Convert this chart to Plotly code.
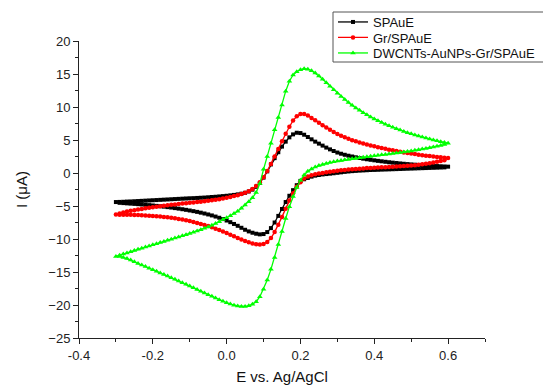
import plotly.graph_objects as go

# Potential sweep (V vs Ag/AgCl): forward scan -0.30 -> 0.60, reverse scan 0.59 -> -0.30
E_fwd = [-0.30, -0.29, -0.28, -0.27, -0.26, -0.25, -0.24, -0.23, -0.22, -0.21,
         -0.20, -0.19, -0.18, -0.17, -0.16, -0.15, -0.14, -0.13, -0.12, -0.11,
         -0.10, -0.09, -0.08, -0.07, -0.06, -0.05, -0.04, -0.03, -0.02, -0.01,
         0.00, 0.01, 0.02, 0.03, 0.04, 0.05, 0.06, 0.07, 0.08, 0.09,
         0.10, 0.11, 0.12, 0.13, 0.14, 0.15, 0.16, 0.17, 0.18, 0.19,
         0.20, 0.21, 0.22, 0.23, 0.24, 0.25, 0.26, 0.27, 0.28, 0.29,
         0.30, 0.31, 0.32, 0.33, 0.34, 0.35, 0.36, 0.37, 0.38, 0.39,
         0.40, 0.41, 0.42, 0.43, 0.44, 0.45, 0.46, 0.47, 0.48, 0.49,
         0.50, 0.51, 0.52, 0.53, 0.54, 0.55, 0.56, 0.57, 0.58, 0.59, 0.60]
E_rev = E_fwd[-2::-1]

# SPAuE (black)
spauE_fwd = [-4.40, -4.38, -4.36, -4.33, -4.31, -4.28, -4.25, -4.22, -4.19, -4.16,
             -4.13, -4.10, -4.07, -4.04, -4.01, -3.98, -3.95, -3.92, -3.89, -3.86,
             -3.83, -3.81, -3.78, -3.75, -3.72, -3.68, -3.64, -3.60, -3.55, -3.50,
             -3.45, -3.39, -3.32, -3.24, -3.14, -3.00, -2.80, -2.52, -2.10, -1.50,
             -0.70, 0.25, 1.30, 2.25, 3.15, 4.00, 4.75, 5.40, 5.85, 6.10,
             6.05, 5.80, 5.45, 5.10, 4.75, 4.45, 4.15, 3.85, 3.58, 3.33,
             3.10, 2.92, 2.76, 2.62, 2.50, 2.38, 2.27, 2.17, 2.08, 2.00,
             1.92, 1.84, 1.77, 1.70, 1.63, 1.57, 1.51, 1.45, 1.40, 1.35,
             1.30, 1.26, 1.22, 1.18, 1.14, 1.11, 1.08, 1.05, 1.02, 0.99, 0.96]
spauE_rev = [0.85, 0.83, 0.81, 0.79, 0.77, 0.75, 0.73, 0.71, 0.69,
             0.67, 0.65, 0.63, 0.61, 0.59, 0.57, 0.55, 0.53, 0.51, 0.49,
             0.47, 0.45, 0.42, 0.39, 0.36, 0.32, 0.28, 0.23, 0.17, 0.10,
             0.03, -0.04, -0.10, -0.16, -0.22, -0.30, -0.40, -0.55, -0.75, -0.95,
             -1.20, -1.85, -2.60, -3.45, -4.40, -5.45, -6.50, -7.50, -8.35, -8.95,
             -9.25, -9.30, -9.20, -9.05, -8.85, -8.60, -8.30, -8.00, -7.72, -7.45,
             -7.20, -6.98, -6.78, -6.60, -6.43, -6.28, -6.14, -6.01, -5.89, -5.78,
             -5.68, -5.58, -5.49, -5.40, -5.32, -5.24, -5.17, -5.10, -5.04, -4.98,
             -4.92, -4.87, -4.82, -4.77, -4.72, -4.68, -4.64, -4.60, -4.56, -4.52]

# Gr/SPAuE (red)
gr_fwd = [-6.30, -6.12, -5.97, -5.84, -5.73, -5.63, -5.53, -5.44, -5.35, -5.26,
          -5.18, -5.10, -5.03, -4.96, -4.89, -4.82, -4.76, -4.70, -4.64, -4.58,
          -4.52, -4.46, -4.40, -4.34, -4.28, -4.21, -4.13, -4.05, -3.96, -3.86,
          -3.75, -3.63, -3.50, -3.36, -3.20, -3.00, -2.75, -2.42, -1.98, -1.40,
          -0.65, 0.30, 1.35, 2.50, 3.65, 4.80, 5.95, 7.00, 7.95, 8.60,
          8.95, 8.95, 8.70, 8.35, 7.98, 7.62, 7.25, 6.90, 6.55, 6.22,
          5.92, 5.65, 5.40, 5.18, 4.98, 4.80, 4.63, 4.47, 4.32, 4.18,
          4.04, 3.91, 3.78, 3.66, 3.54, 3.43, 3.32, 3.22, 3.12, 3.03,
          2.94, 2.86, 2.78, 2.70, 2.63, 2.56, 2.49, 2.43, 2.37, 2.31, 2.26]
gr_rev = [1.95, 1.82, 1.70, 1.59, 1.49, 1.40, 1.32, 1.25, 1.19,
          1.14, 1.09, 1.05, 1.01, 0.98, 0.95, 0.92, 0.89, 0.86, 0.83,
          0.80, 0.77, 0.74, 0.70, 0.66, 0.62, 0.57, 0.52, 0.46, 0.40,
          0.33, 0.26, 0.18, 0.10, 0.01, -0.09, -0.20, -0.33, -0.52, -0.85,
          -1.40, -2.10, -3.05, -4.15, -5.40, -6.65, -7.85, -8.95, -9.85, -10.45,
          -10.75, -10.85, -10.80, -10.68, -10.50, -10.30, -10.08, -9.84, -9.60, -9.35,
          -9.10, -8.86, -8.64, -8.43, -8.23, -8.04, -7.87, -7.71, -7.56, -7.42,
          -7.29, -7.17, -7.06, -6.96, -6.87, -6.79, -6.72, -6.66, -6.60, -6.55,
          -6.51, -6.47, -6.44, -6.41, -6.38, -6.36, -6.34, -6.33, -6.32, -6.31]

# DWCNTs-AuNPs-Gr/SPAuE (green)
dw_fwd = [-12.65, -12.47, -12.29, -12.11, -11.93, -11.75, -11.57, -11.40, -11.22, -11.05,
          -10.88, -10.71, -10.54, -10.37, -10.20, -10.03, -9.86, -9.69, -9.52, -9.35,
          -9.17, -8.99, -8.80, -8.60, -8.39, -8.17, -7.93, -7.67, -7.38, -7.06,
          -6.78, -6.48, -6.15, -5.80, -5.35, -4.85, -4.35, -3.75, -2.95, -1.60,
          0.55, 2.50, 4.50, 6.55, 8.40, 10.30, 12.40, 13.90, 14.85, 15.35,
          15.65, 15.80, 15.72, 15.50, 15.15, 14.70, 14.20, 13.68, 13.15, 12.62,
          12.10, 11.60, 11.12, 10.67, 10.25, 9.86, 9.49, 9.14, 8.81, 8.50,
          8.20, 7.92, 7.65, 7.40, 7.16, 6.93, 6.71, 6.50, 6.30, 6.11,
          5.93, 5.76, 5.60, 5.44, 5.29, 5.15, 5.01, 4.88, 4.75, 4.63, 4.51]
dw_rev = [4.30, 4.18, 4.06, 3.95, 3.84, 3.73, 3.63, 3.53, 3.44,
          3.35, 3.27, 3.19, 3.11, 3.03, 2.96, 2.89, 2.82, 2.75, 2.68,
          2.61, 2.54, 2.47, 2.40, 2.33, 2.25, 2.17, 2.09, 2.00, 1.91,
          1.81, 1.70, 1.58, 1.45, 1.30, 1.12, 0.90, 0.62, 0.25, -0.30,
          -1.10, -2.20, -3.55, -5.10, -6.90, -8.85, -10.85, -12.80, -14.60, -16.20,
          -17.60, -18.75, -19.50, -19.90, -20.12, -20.22, -20.22, -20.15, -20.03, -19.86,
          -19.66, -19.44, -19.20, -18.95, -18.69, -18.43, -18.17, -17.91, -17.65, -17.39,
          -17.13, -16.87, -16.61, -16.36, -16.11, -15.86, -15.62, -15.38, -15.14, -14.90,
          -14.66, -14.42, -14.18, -13.94, -13.70, -13.45, -13.20, -12.95, -12.80, -12.65]

series = [
    ("SPAuE", spauE_fwd + spauE_rev, "#000000", "square", 4),
    ("Gr/SPAuE", gr_fwd + gr_rev, "#FF0000", "circle", 4.5),
    ("DWCNTs-AuNPs-Gr/SPAuE", dw_fwd + dw_rev, "#00FF00", "triangle-up", 5),
]
E_all = E_fwd + E_rev

x_tick_vals = [-0.4, -0.2, 0.0, 0.2, 0.4, 0.6]
x_tick_text = ["-0.4", "-0.2", "0.0", "0.2", "0.4", "0.6"]
y_tick_vals = [-25, -20, -15, -10, -5, 0, 5, 10, 15, 20]

W, H = 543, 387
L, R, T, B = 79, 58, 41, 49
legend_names = ["legend", "legend2", "legend3"]
legend_item_y = [22, 37.5, 53]  # pixel centres of legend rows

font_family = "Arial, Liberation Sans, sans-serif"

fig = go.Figure()
for (name, vals, color, sym, size), lg in zip(series, legend_names):
    fig.add_trace(go.Scatter(
        x=E_all, y=vals, mode="lines+markers", name=name, legend=lg,
        line=dict(color=color, width=1.3),
        marker=dict(symbol=sym, size=size, color=color, line=dict(width=0)),
    ))

legend_layout = {}
for lg, yc in zip(legend_names, legend_item_y):
    legend_layout[lg] = dict(
        xref="container", yref="container",
        x=333 / W, y=1 - yc / H, xanchor="left", yanchor="middle",
        borderwidth=0, bgcolor="rgba(0,0,0,0)",
        font=dict(family=font_family, size=13, color="#111"),
        itemwidth=30,
    )

# legend frame (decoration), in paper coordinates
pw, ph = W - L - R, H - T - B
fig.add_shape(
    type="rect", xref="paper", yref="paper",
    x0=(333 - L) / pw, x1=(548 - L) / pw,
    y0=1 + (T - 62) / ph, y1=1 + (T - 12) / ph,
    line=dict(color="#555", width=1), fillcolor="rgba(0,0,0,0)", layer="above",
)

fig.update_layout(
    width=W, height=H,
    margin=dict(l=L, r=R, t=T, b=B, autoexpand=False),
    paper_bgcolor="white", plot_bgcolor="white",
    font=dict(family=font_family, size=13, color="#222"),
    showlegend=True,
    xaxis=dict(
        range=[-0.4, 0.7], showgrid=False, zeroline=False,
        showline=True, linecolor="#222", linewidth=1,
        ticks="outside", ticklen=5, tickcolor="#222",
        tickvals=x_tick_vals, ticktext=x_tick_text,
        minor=dict(dtick=0.1, tick0=-0.4, ticks="outside", ticklen=3, tickcolor="#222"),
        title=dict(text="E vs. Ag/AgCl", font=dict(size=15, color="#111"), standoff=9),
        tickfont=dict(size=13),
    ),
    yaxis=dict(
        range=[-25, 20], showgrid=False, zeroline=False,
        showline=True, linecolor="#222", linewidth=1,
        ticks="outside", ticklen=5, tickcolor="#222",
        tickvals=y_tick_vals,
        minor=dict(dtick=2.5, tick0=0, ticks="outside", ticklen=3, tickcolor="#222"),
        title=dict(text="I (\u03bcA)", font=dict(size=15, color="#111"), standoff=17),
        tickfont=dict(size=13),
    ),
    **legend_layout,
)

fig.write_html("out.html", config={"displayModeBar": False},
               post_script="document.body.style.margin='0';")
